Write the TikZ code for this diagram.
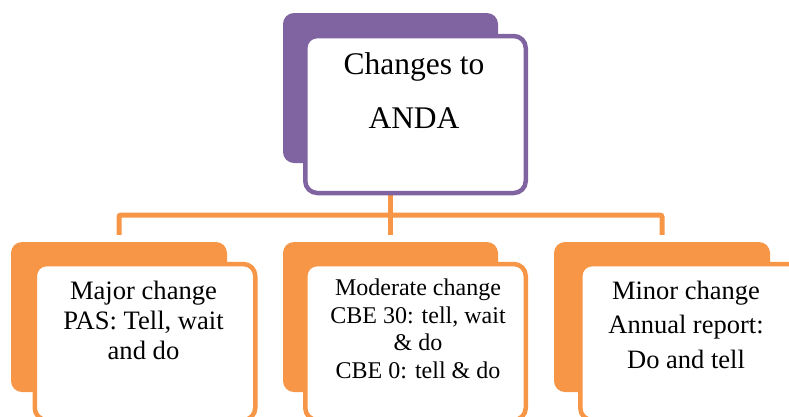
\documentclass[tikz,border=0pt]{standalone}
\usepackage{fontspec}
\setmainfont{Liberation Serif}
\usetikzlibrary{backgrounds}
\definecolor{purp}{RGB}{128,100,162}
\definecolor{orng}{RGB}{247,150,70}
\tikzset{
  backbox/.style={rectangle, rounded corners=11pt, fill=#1, inner sep=0pt,
    minimum width=216pt, minimum height=150pt},
  frontbox/.style={rectangle, rounded corners=12pt, draw=#1, fill=white,
    line width=4.5pt, inner sep=0pt, minimum width=220.5pt, minimum height=156pt},
  conn/.style={draw=orng, line width=5pt, rounded corners=2pt},
  txt/.style={align=center, inner sep=0pt, anchor=base}
}
\begin{document}
\begin{tikzpicture}[x=1pt,y=-1pt]
\useasboundingbox (0,0) rectangle (789,416);
\clip (0,0) rectangle (789,416);
% top
\node[backbox=purp, minimum width=215pt] (topback) at (390.5,88) {};
\node[frontbox=purp, minimum height=157pt] (topfront) at (415.5,114.5) {};
\node[txt, font=\fontsize{31.5}{54}\selectfont] (toptext) at (414,128) {Changes to\\ANDA};
% left
\node[backbox=orng] (leftback) at (119,317) {};
\node[frontbox=orng] (leftfront) at (145,342) {};
\node[txt, font=\fontsize{26.6}{30}\selectfont] (lefttext) at (143.5,359) {Major change\\PAS: Tell, wait\\and do};
% middle
\node[backbox=orng, minimum width=215pt] (midback) at (390.5,317) {};
\node[frontbox=orng] (midfront) at (415.5,342) {};
\node[txt, font=\fontsize{24}{27.5}\selectfont] (midtext) at (418,378) {Moderate change\\CBE 30: tell, wait\\\& do\\CBE 0: tell \& do};
% right
\node[backbox=orng] (rightback) at (662,317) {};
\node[frontbox=orng] (rightfront) at (690.5,342) {};
\node[txt, font=\fontsize{26.5}{34.5}\selectfont] (righttext) at (686,368) {Minor change\\Annual report:\\Do and tell};
% connectors
\coordinate (busl) at (119,215);
\coordinate (leftend) at ([yshift=7pt]leftback.north);
\coordinate (midend) at ([yshift=7pt]midback.north);
\coordinate (rightend) at ([yshift=7pt]rightback.north);
\begin{pgfonlayer}{background}
\draw[conn] (topback.south) -- (midend);
\draw[conn] (leftend) -- (busl) -| (rightend);
\end{pgfonlayer}
\end{tikzpicture}
\end{document}
